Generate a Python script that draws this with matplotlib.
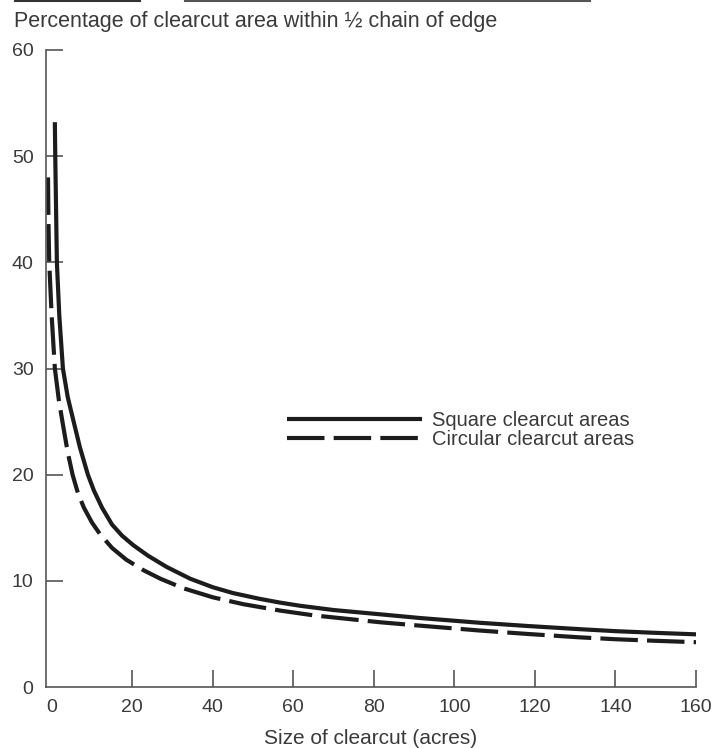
import matplotlib
matplotlib.use("Agg")
import matplotlib.pyplot as plt
from matplotlib.lines import Line2D

plt.rcParams['font.family'] = ['Liberation Sans', 'DejaVu Sans']

# values (acres, percent)
square_acres = [0.8, 0.9, 1.3, 1.9, 2.8, 4.0, 5.4, 7.0, 9.0, 10.5, 12.5, 15, 17.5,
                20.3, 24, 28.6, 34.4, 40, 45, 51.7, 56.7, 61.7, 70, 81.5, 91.4,
                106.3, 118, 131, 140, 150, 160]
square_pct = [53.2, 50.0, 40.0, 35.0, 30.0, 27.3, 25.1, 22.6, 20.0, 18.5, 16.9, 15.3, 14.25,
              13.35, 12.35, 11.3, 10.2, 9.4, 8.85, 8.3, 7.95, 7.65, 7.25, 6.85, 6.5,
              6.05, 5.75, 5.45, 5.26, 5.1, 4.96]

circle_acres = [-0.9, -0.8, -0.6, 0.0, 0.8, 1.8, 2.9, 4.0, 5.2, 6.5, 8.0, 10, 12, 15,
                18.5, 22.8, 27, 32.7, 40, 47.6, 56.7, 65, 81.5, 91.4, 106.3, 118,
                131, 140, 150, 160]
circle_pct = [48.0, 44.0, 40.0, 35.0, 30.0, 27.0, 24.5, 22.1, 20.0, 18.3, 16.9, 15.5, 14.4, 13.1,
              12.0, 11.0, 10.2, 9.3, 8.45, 7.8, 7.2, 6.75, 6.1, 5.78, 5.32, 5.0,
              4.68, 4.5, 4.35, 4.22]

x_ticks = [0, 20, 40, 60, 80, 100, 120, 140, 160]
y_ticks = [0, 10, 20, 30, 40, 50, 60]

labels = ["Square clearcut areas", "Circular clearcut areas"]

ink = '#1c1c1c'
txt = '#3a3a3a'
W, H = 715, 748

fig = plt.figure(figsize=(W / 100, H / 100), dpi=100)
ax = fig.add_axes([46 / W, 1 - 687 / H, 650 / W, 637 / H])

ax.plot(square_acres, square_pct, color=ink, lw=3.0, solid_capstyle='butt',
        solid_joinstyle='round', label=labels[0])
ax.plot(circle_acres, circle_pct, color=ink, lw=3.0, dashes=(9, 2.2),
        dash_capstyle='butt', dash_joinstyle='round', label=labels[1])

ax.set_xlim(-1.4, 160)
ax.set_ylim(0, 60)
ax.set_xticks(x_ticks)
ax.set_yticks(y_ticks)
ax.tick_params(direction='in', length=12, width=1.2, color='#555555',
               labelsize=14, labelcolor=txt)
ax.tick_params(axis='x', pad=9)
ax.tick_params(axis='y', pad=9)
# corner ticks are not drawn
ax.xaxis.get_major_ticks()[0].tick1line.set_visible(False)
ax.yaxis.get_major_ticks()[0].tick1line.set_visible(False)

for s in ['top', 'right']:
    ax.spines[s].set_visible(False)
for s in ['left', 'bottom']:
    ax.spines[s].set_color('#555555')
    ax.spines[s].set_linewidth(1.2)

ax.set_xlabel("Size of clearcut (acres)", fontsize=15, color=txt, labelpad=9)

fig.text(14 / W, 1 - 21 / H, "Percentage of clearcut area within \u00bd chain of edge",
         fontsize=15.5, color=txt, va='center', ha='left')

# remains of the header rule at the very top
fig.add_artist(Line2D([15 / W, 140 / W], [1 - 1 / H, 1 - 1 / H], color='#333333', lw=1.5))
fig.add_artist(Line2D([185 / W, 590 / W], [1 - 1 / H, 1 - 1 / H], color='#555555', lw=1.5))

ax.legend(loc='center left', bbox_to_anchor=(287 / W, 1 - 430 / H),
          bbox_transform=fig.transFigure, frameon=False, fontsize=14.5,
          handlelength=6.7, handletextpad=0.5, labelspacing=0.0, borderpad=0,
          borderaxespad=0, labelcolor=txt)

fig.savefig("out.png", dpi=100)
